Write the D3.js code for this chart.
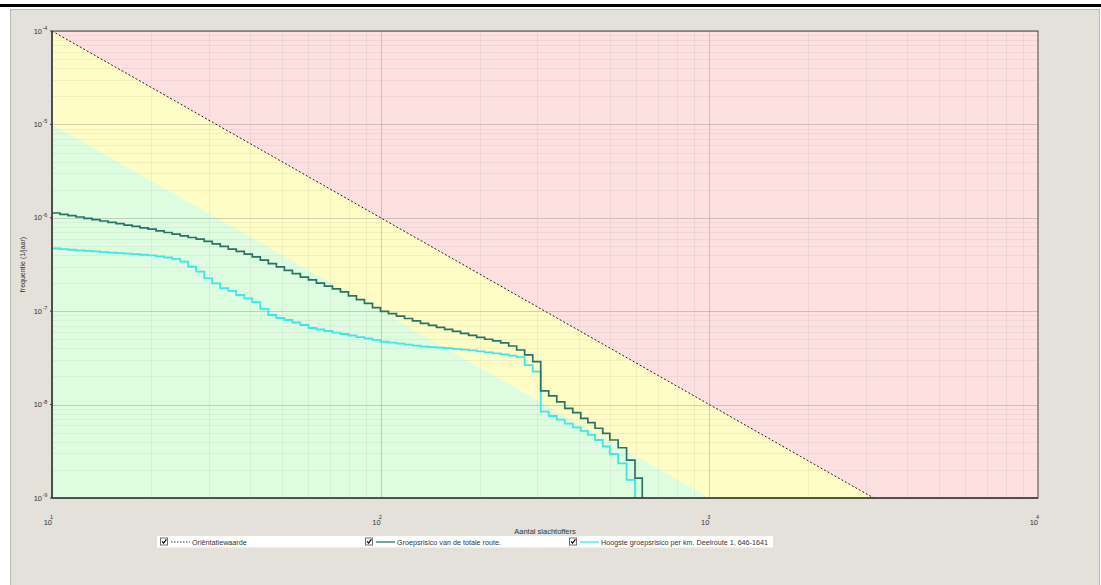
<!DOCTYPE html>
<html>
<head>
<meta charset="utf-8">
<script src="https://cdn.jsdelivr.net/npm/d3@7/dist/d3.min.js"></script>
<style>
    body { margin: 0; background: #fff; }
    svg { display: block; font-family: "Liberation Sans", Arial, sans-serif; }
</style>
</head>
<body>
<svg id="chart" width="1101" height="585"></svg>
<script>
'use strict';

// step positions (aantal slachtoffers), shared by both FN curves
const stepN = [
    10.0, 10.58, 11.19, 11.83, 12.52, 13.24, 14.0, 14.81, 15.67, 16.57,
    17.53, 18.54, 19.61, 20.74, 21.94, 23.21, 24.55, 25.97, 27.47, 29.05,
    30.73, 32.5, 34.38, 36.36, 38.46, 40.68, 43.03, 45.52, 48.15, 50.93,
    53.87, 56.98, 60.27, 63.75, 67.43, 71.32, 75.44, 79.79, 84.4, 89.27,
    94.43, 99.88, 105.6, 111.7, 118.2, 125.0, 132.2, 139.9, 147.9, 156.5,
    165.5, 175.1, 185.2, 195.9, 207.2, 219.2, 231.8, 245.2, 259.3, 274.3,
    290.2, 306.9, 324.6, 343.4, 363.2, 384.2, 406.3, 427.0, 449.0, 474.0,
    498.0, 528.0, 560.0, 594.0, 625.0
];

// Groepsrisico van de totale route (1/jaar)
const totalRouteF = [
    1.126e-6, 1.090e-6, 1.053e-6, 1.020e-6, 9.88e-7, 9.54e-7, 9.24e-7, 8.93e-7, 8.65e-7, 8.35e-7,
    8.09e-7, 7.81e-7, 7.55e-7, 7.26e-7, 6.96e-7, 6.69e-7, 6.42e-7, 6.15e-7, 5.90e-7, 5.60e-7,
    5.27e-7, 4.94e-7, 4.63e-7, 4.36e-7, 4.09e-7, 3.82e-7, 3.52e-7, 3.23e-7, 2.98e-7, 2.74e-7,
    2.53e-7, 2.32e-7, 2.16e-7, 2.00e-7, 1.86e-7, 1.73e-7, 1.61e-7, 1.46e-7, 1.33e-7, 1.21e-7,
    1.09e-7, 9.97e-8, 9.40e-8, 8.86e-8, 8.35e-8, 7.87e-8, 7.42e-8, 7.06e-8, 6.71e-8, 6.38e-8,
    6.08e-8, 5.78e-8, 5.52e-8, 5.25e-8, 5.01e-8, 4.80e-8, 4.57e-8, 4.24e-8, 3.84e-8, 3.40e-8,
    2.88e-8, 1.40e-8, 1.24e-8, 1.07e-8, 9.13e-9, 8.19e-9, 7.13e-9, 6.40e-9, 5.58e-9, 4.93e-9,
    4.18e-9, 3.45e-9, 2.55e-9, 1.63e-9, 1e-10
];

// Hoogste groepsrisico per km (1/jaar)
const perKmF = [
    4.69e-7, 4.62e-7, 4.55e-7, 4.49e-7, 4.43e-7, 4.37e-7, 4.30e-7, 4.24e-7, 4.19e-7, 4.13e-7,
    4.08e-7, 4.02e-7, 3.96e-7, 3.86e-7, 3.76e-7, 3.64e-7, 3.40e-7, 2.99e-7, 2.65e-7, 2.25e-7,
    1.99e-7, 1.76e-7, 1.65e-7, 1.49e-7, 1.37e-7, 1.25e-7, 1.06e-7, 9.11e-8, 8.46e-8, 8.05e-8,
    7.57e-8, 7.12e-8, 6.61e-8, 6.37e-8, 6.14e-8, 5.91e-8, 5.70e-8, 5.49e-8, 5.29e-8, 5.10e-8,
    4.92e-8, 4.71e-8, 4.60e-8, 4.49e-8, 4.38e-8, 4.27e-8, 4.17e-8, 4.12e-8, 4.07e-8, 4.02e-8,
    3.96e-8, 3.88e-8, 3.80e-8, 3.71e-8, 3.63e-8, 3.54e-8, 3.45e-8, 3.35e-8, 3.23e-8, 2.65e-8,
    2.25e-8, 8.39e-9, 7.55e-9, 6.92e-9, 6.27e-9, 5.69e-9, 5.22e-9, 4.73e-9, 4.18e-9, 3.56e-9,
    2.96e-9, 2.35e-9, 1.56e-9, 1e-10
];

// orientatiewaarde and the 0.1x boundary of the green zone
const orientN = [10, 10000];
const orientF = [1e-4, 1e-10];
const greenN = [10, 10000];
const greenF = [1e-5, 1e-11];

const xTickExp = [1, 2, 3, 4];
const yTickExp = [-4, -5, -6, -7, -8, -9];
const legendLabels = [
    'Oriëntatiewaarde',
    'Groepsrisico van de totale route.',
    'Hoogste groepsrisico per km. Deelroute 1, 646-1641'
];

const PLOT = { left: 52, top: 31, right: 1038, bottom: 498 };
const COLORS = {
    panel: '#e4e1db', red: '#fde1e1', yellow: '#fefdc6', green: '#defde0',
    total: '#2a7368', perKm: '#3fe6ea', text: '#333'
};

const svg = d3.select('#chart');

const x = d3.scaleLog().domain([10, 10000]).range([PLOT.left, PLOT.right]);
const y = d3.scaleLog().domain([1e-9, 1e-4]).range([PLOT.bottom, PLOT.top]);

// page furniture: black rule and grey panel
svg.append('rect').attr('x', 0).attr('y', 4).attr('width', 1101).attr('height', 3).attr('fill', '#000');
svg.append('rect')
    .attr('x', 10.5).attr('y', 9.5).attr('width', 1089).attr('height', 580)
    .attr('fill', COLORS.panel).attr('stroke', '#bdbab4');

// clip for everything inside the plot
svg.append('clipPath').attr('id', 'plot-clip')
    .append('rect')
    .attr('x', PLOT.left).attr('y', PLOT.top)
    .attr('width', PLOT.right - PLOT.left).attr('height', PLOT.bottom - PLOT.top);

const plot = svg.append('g').attr('clip-path', 'url(#plot-clip)');

const poly = d3.line().x(d => x(d[0])).y(d => y(d[1]));

// zones
const orient = d3.zip(orientN, orientF);
const green = d3.zip(greenN, greenF);
plot.append('rect')
    .attr('x', PLOT.left).attr('y', PLOT.top)
    .attr('width', PLOT.right - PLOT.left).attr('height', PLOT.bottom - PLOT.top)
    .attr('fill', COLORS.red);
plot.append('path')
    .attr('d', poly(orient.concat([[greenN[1], 1e-13], [greenN[0], 1e-13]])) + 'Z')
    .attr('fill', COLORS.yellow);
plot.append('path')
    .attr('d', poly(green.concat([[greenN[1], 1e-13], [greenN[0], 1e-13]])) + 'Z')
    .attr('fill', COLORS.green);

// grid
const isDecade = v => Math.abs(Math.log10(v) - Math.round(Math.log10(v))) < 1e-6;
const gridColor = d => isDecade(d) ? 'rgba(110,110,100,0.3)' : 'rgba(150,150,130,0.12)';
plot.selectAll('.vgrid').data(x.ticks()).join('line')
    .attr('x1', d => Math.round(x(d)) + 0.5).attr('x2', d => Math.round(x(d)) + 0.5)
    .attr('y1', PLOT.top).attr('y2', PLOT.bottom)
    .attr('stroke', gridColor);
plot.selectAll('.hgrid').data(y.ticks()).join('line')
    .attr('y1', d => Math.round(y(d)) + 0.5).attr('y2', d => Math.round(y(d)) + 0.5)
    .attr('x1', PLOT.left).attr('x2', PLOT.right)
    .attr('stroke', gridColor);

// orientatiewaarde
plot.append('path')
    .attr('d', poly(orient))
    .attr('fill', 'none').attr('stroke', '#222').attr('stroke-width', 1)
    .attr('stroke-dasharray', '2,2');

// FN curves
const step = d3.line().x(d => x(d[0])).y(d => y(d[1])).curve(d3.curveStepAfter);
plot.append('path')
    .attr('d', step(d3.zip(stepN, perKmF)))
    .attr('fill', 'none').attr('stroke', COLORS.perKm).attr('stroke-width', 1.8);
plot.append('path')
    .attr('d', step(d3.zip(stepN, totalRouteF)))
    .attr('fill', 'none').attr('stroke', COLORS.total).attr('stroke-width', 1.7);

// frame
svg.append('rect')
    .attr('x', PLOT.left).attr('y', PLOT.top)
    .attr('width', PLOT.right - PLOT.left).attr('height', PLOT.bottom - PLOT.top)
    .attr('fill', 'none').attr('stroke', '#4a4446').attr('stroke-width', 1);
svg.append('path')
    .attr('d', `M${PLOT.left},${PLOT.top}V${PLOT.bottom}H${PLOT.right}`)
    .attr('fill', 'none').attr('stroke', '#3a3a3a').attr('stroke-width', 1.5);

// y tick labels
const yLab = svg.append('g').attr('fill', COLORS.text);
yTickExp.forEach(e => {
    const ty = y(Math.pow(10, e));
    yLab.append('text').attr('x', 42).attr('y', ty + 2.5)
        .attr('text-anchor', 'end').attr('font-size', 7.5).text('10');
    yLab.append('text').attr('x', 42.5).attr('y', ty - 1)
        .attr('font-size', 5.5).text(String(e));
    svg.append('line').attr('x1', PLOT.left - 2).attr('x2', PLOT.left)
        .attr('y1', ty).attr('y2', ty).attr('stroke', '#3a3a3a');
});

// x tick labels
const xLab = svg.append('g').attr('fill', COLORS.text);
xTickExp.forEach(e => {
    const tx = x(Math.pow(10, e));
    xLab.append('text').attr('x', tx).attr('y', 524.5)
        .attr('text-anchor', 'end').attr('font-size', 7.5).text('10');
    xLab.append('text').attr('x', tx - 2).attr('y', 519)
        .attr('font-size', 5.5).text(String(e));
});

// axis titles
svg.append('text')
    .attr('x', (PLOT.left + PLOT.right) / 2).attr('y', 533.5)
    .attr('text-anchor', 'middle').attr('font-size', 7.5).attr('fill', COLORS.text)
    .text('Aantal slachtoffers');
svg.append('text')
    .attr('transform', `translate(24.5,${(PLOT.top + PLOT.bottom) / 2}) rotate(-90)`)
    .attr('text-anchor', 'middle').attr('font-size', 7).attr('fill', COLORS.text)
    .text('frequentie (1/jaar)');

// legend
svg.append('rect').attr('x', 157).attr('y', 536).attr('width', 616).attr('height', 11.5).attr('fill', '#fff');
const legendX = [160, 365, 569];
const legendStyle = [
    { stroke: '#333', dash: '1.5,1.5' },
    { stroke: COLORS.total, dash: null },
    { stroke: COLORS.perKm, dash: null }
];
legendLabels.forEach((label, i) => {
    const g = svg.append('g').attr('transform', `translate(${legendX[i]},537.5)`);
    g.append('rect').attr('x', 0.5).attr('y', 0.5).attr('width', 7).attr('height', 7)
        .attr('fill', '#fff').attr('stroke', '#6f6f6f');
    g.append('path').attr('d', 'M2,3.8 L3.6,5.6 L6.4,1.8')
        .attr('fill', 'none').attr('stroke', '#000').attr('stroke-width', 1.2);
    g.append('line').attr('x1', 11).attr('x2', 30).attr('y1', 4.5).attr('y2', 4.5)
        .attr('stroke', legendStyle[i].stroke).attr('stroke-width', legendStyle[i].dash ? 1 : 1.3)
        .attr('stroke-dasharray', legendStyle[i].dash);
    g.append('text').attr('x', 32).attr('y', 7).attr('font-size', 7.2)
        .attr('fill', COLORS.text).text(label);
});
</script>
</body>
</html>
